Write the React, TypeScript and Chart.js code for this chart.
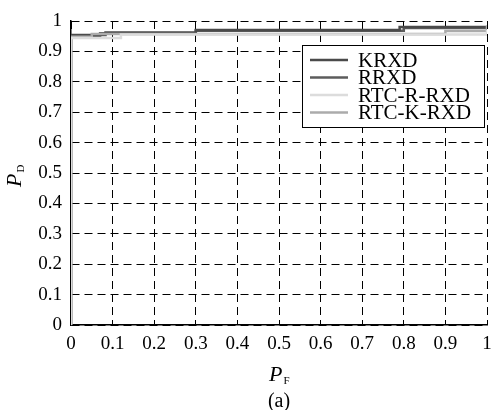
import React, { useEffect, useRef } from "react";
import { Chart, registerables } from "chart.js";

Chart.register(...registerables);

const seriesNames = ["KRXD", "RRXD", "RTC-R-RXD", "RTC-K-RXD"];
const seriesColors = ["#4a4a4a", "#5c5c5c", "#dcdcdc", "#ababab"];
const seriesOrder = [1, 1, 0, 0];

const krxdX = [0, 0, 0.083, 0.083, 0.3, 0.3, 0.79, 0.79, 1];
const krxdY = [0, 0.954, 0.954, 0.962, 0.962, 0.97, 0.97, 0.98, 0.98];
const rrxdX = [0, 0, 0.07, 0.07, 0.3, 0.3, 0.8, 0.8, 1];
const rrxdY = [0, 0.951, 0.951, 0.96, 0.96, 0.968, 0.968, 0.977, 0.977];
const rtcRX = [0, 0, 0.12, 0.12, 1, 1];
const rtcRY = [0, 0.944, 0.944, 0.956, 0.956, 0.97];
const rtcKX = [0, 0, 0.05, 0.05, 0.9, 0.9, 1, 1];
const rtcKY = [0, 0.948, 0.948, 0.957, 0.957, 0.967, 0.967, 0.985];

const xTicks = [0, 0.1, 0.2, 0.3, 0.4, 0.5, 0.6, 0.7, 0.8, 0.9, 1];
const yTicks = [0, 0.1, 0.2, 0.3, 0.4, 0.5, 0.6, 0.7, 0.8, 0.9, 1];

const xTitle = ["P", "F"];
const yTitle = ["P", "D"];
const caption = "(a)";

const SERIF = "'Liberation Serif', 'Times New Roman', serif";

const toPts = (xs: number[], ys: number[]) => xs.map((x, i) => ({ x, y: ys[i] }));

const overlayPlugin = {
  id: "overlay",
  afterDraw(chart: any) {
    const { ctx, chartArea } = chart;
    const cx = (chartArea.left + chartArea.right) / 2;
    ctx.save();
    ctx.fillStyle = "#000";
    // X title
    ctx.font = `italic 22px ${SERIF}`;
    ctx.textBaseline = "alphabetic";
    ctx.textAlign = "left";
    const pw = ctx.measureText(xTitle[0]).width;
    const xBase = 381;
    ctx.fillText(xTitle[0], cx - 10, xBase);
    ctx.font = `11px ${SERIF}`;
    ctx.fillText(xTitle[1], cx - 10 + pw + 1, xBase + 3);
    // Y title rotated
    ctx.save();
    ctx.translate(21, 187);
    ctx.rotate(-Math.PI / 2);
    ctx.font = `italic 22px ${SERIF}`;
    ctx.fillText(yTitle[0], 0, 0);
    const pw2 = ctx.measureText(yTitle[0]).width;
    ctx.font = `11px ${SERIF}`;
    ctx.fillText(yTitle[1], pw2 + 1, 3);
    ctx.restore();
    // caption
    ctx.font = `20px ${SERIF}`;
    ctx.textAlign = "center";
    ctx.fillText(caption, cx, 407);
    // legend
    const bx = 302, by = 45, bw = 182, bh = 82;
    ctx.fillStyle = "#fff";
    ctx.fillRect(bx, by, bw, bh);
    ctx.strokeStyle = "#000";
    ctx.lineWidth = 1;
    ctx.strokeRect(bx + 0.5, by + 0.5, bw, bh);
    ctx.font = `21px ${SERIF}`;
    ctx.textAlign = "left";
    ctx.textBaseline = "middle";
    chart.data.datasets.forEach((ds: any, i: number) => {
      const yy = by + 15 + i * 17.5;
      ctx.strokeStyle = ds.borderColor;
      ctx.lineWidth = 2.5;
      ctx.beginPath();
      ctx.moveTo(310, yy);
      ctx.lineTo(348, yy);
      ctx.stroke();
      ctx.fillStyle = "#000";
      ctx.fillText(ds.label, 358, yy + 1);
    });
    ctx.restore();
  },
};

export default function App() {
  const ref = useRef<HTMLCanvasElement>(null);
  useEffect(() => {
    if (!ref.current) return;
    const xs = [krxdX, rrxdX, rtcRX, rtcKX];
    const ys = [krxdY, rrxdY, rtcRY, rtcKY];
    const chart = new Chart(ref.current, {
      type: "line",
      data: {
        datasets: seriesNames.map((name, i) => ({
          label: name,
          data: toPts(xs[i], ys[i]),
          borderColor: seriesColors[i],
          borderWidth: 2.5,
          pointRadius: 0,
          fill: false,
          tension: 0,
          order: seriesOrder[i],
        })),
      },
      options: {
        animation: false,
        responsive: true,
        maintainAspectRatio: false,
        layout: { padding: { left: 0, right: 4, top: 21, bottom: 0 } },
        plugins: { legend: { display: false }, tooltip: { enabled: false } },
        scales: {
          x: {
            type: "linear",
            min: 0,
            max: 1,
            afterBuildTicks: (s: any) => {
              s.ticks = xTicks.map((v) => ({ value: v }));
            },
            afterFit: (s: any) => {
              s.height = 85;
              s.paddingLeft = 0;
              s.paddingRight = 0;
            },
            ticks: {
              color: "#000",
              font: { family: SERIF, size: 19 },
              padding: 8,
              maxRotation: 0,
              callback: (v: any) => String(v),
            },
            grid: { color: "#000", lineWidth: 1, drawTicks: false },
            border: { display: true, color: "#000", width: 1.5, dash: [8, 5] },
          },
          y: {
            type: "linear",
            min: 0,
            max: 1,
            afterBuildTicks: (s: any) => {
              s.ticks = yTicks.map((v) => ({ value: v }));
            },
            afterFit: (s: any) => {
              s.width = 71;
              s.paddingTop = 0;
              s.paddingBottom = 0;
            },
            ticks: {
              color: "#000",
              font: { family: SERIF, size: 19 },
              padding: 9,
              callback: (v: any) => String(v),
            },
            grid: { color: "#000", lineWidth: 1, drawTicks: false },
            border: { display: true, color: "#000", width: 1.5, dash: [8, 5] },
          },
        },
      },
      plugins: [overlayPlugin],
    });
    return () => chart.destroy();
  }, []);
  return (
    <div style={{ position: "fixed", left: 0, top: 0, width: 491, height: 410, background: "#fff" }}>
      <canvas ref={ref} />
    </div>
  );
}
